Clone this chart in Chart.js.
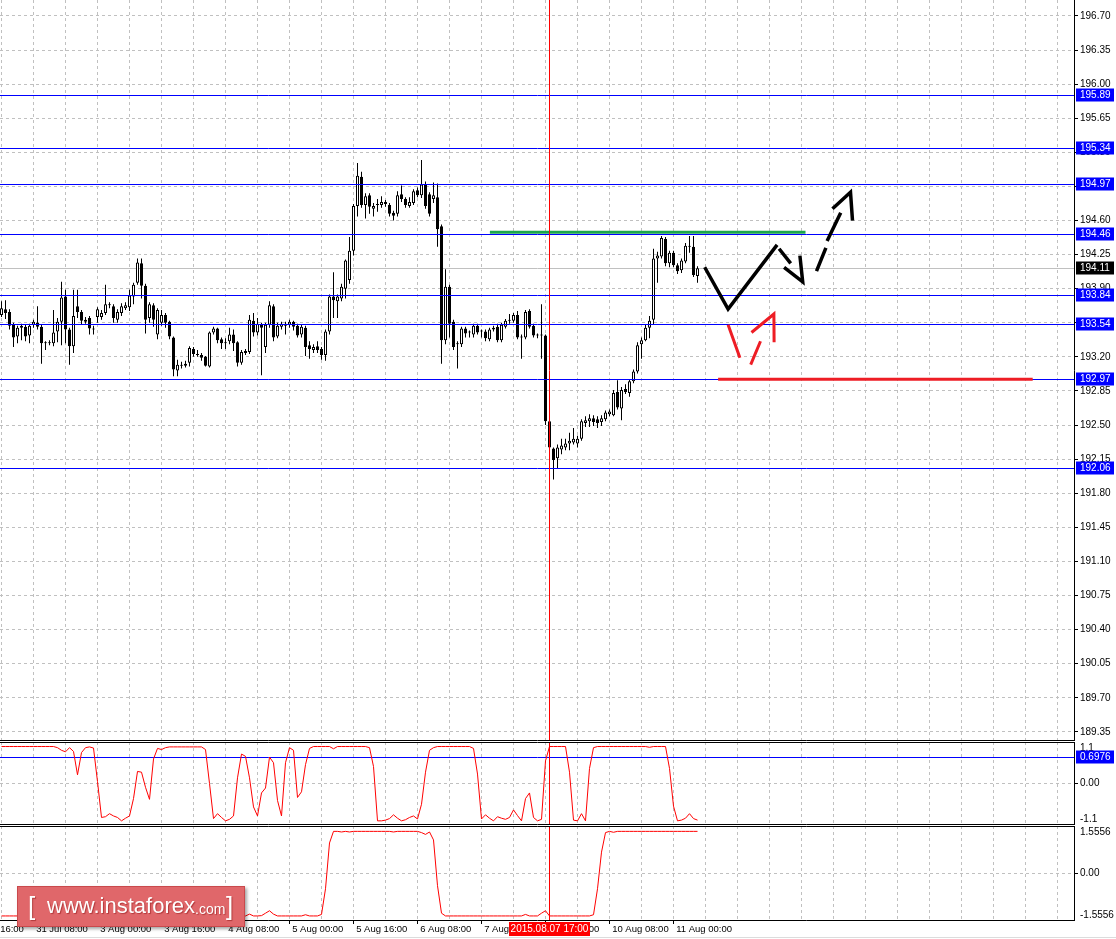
<!DOCTYPE html>
<html>
<head>
<meta charset="utf-8">
<script src="https://cdn.jsdelivr.net/npm/chart.js@4.4.1/dist/chart.umd.min.js"></script>
<style>
  html, body { margin: 0; padding: 0; background: #fff; }
  #wrap { position: relative; width: 1116px; height: 939px; overflow: hidden; background: #fff; }
  canvas { position: absolute; left: 0; }
  #main { top: 0; }
  #ind1 { top: 742px; }
  #ind2 { top: 826px; }
  #strip { position: absolute; left: 0; top: 937px; width: 1116px; height: 1px; background: #dcdcdc; }
  #logo {
    position: absolute; left: 17px; top: 886px; width: 226px; height: 39px;
    background: #e0676a; border: 1px solid #c9494c;
    box-shadow: 2px 2px 3px rgba(0, 0, 0, 0.35);
    color: #fff; font-family: "Liberation Sans", Arial, sans-serif; white-space: nowrap;
  }
  #logo span { position: absolute; line-height: 1; text-shadow: 1px 1px 1px rgba(120, 0, 0, 0.45); }
  #logo .br { font-size: 26px; top: 6px; }
  #logo .www { font-size: 22px; left: 29px; top: 8px; }
  #logo .com { font-size: 14px; left: 177px; top: 15px; }
</style>
</head>
<body>
<div id="wrap">
  <canvas id="main" width="1116" height="741"></canvas>
  <canvas id="ind1" width="1116" height="83"></canvas>
  <canvas id="ind2" width="1116" height="111"></canvas>
  <div id="strip"></div>
  <div id="logo"><span class="br" style="left:10px">[</span><span class="www">www.instaforex</span><span class="com">.com</span><span class="br" style="left:208px">]</span></div>
</div>
<script>
// H1 bars, index 0 = 31 Jul 00:00, index 174 = 11 Aug 06:00
const opens = [
  193.63,193.69,193.66,193.53,193.41,193.50,193.51,193.42,193.53,193.55,
  193.51,193.34,193.34,193.34,193.46,193.56,193.82,193.48,193.31,193.72,
  193.66,193.56,193.60,193.49,193.61,193.61,193.65,193.74,193.72,193.58,
  193.65,193.70,193.71,193.82,193.96,194.16,193.93,193.60,193.73,193.43,
  193.55,193.63,193.56,193.40,193.06,193.12,193.11,193.14,193.28,193.23,
  193.22,193.20,193.10,193.45,193.49,193.38,193.34,193.36,193.43,193.35,
  193.14,193.24,193.25,193.57,193.45,193.53,193.30,193.53,193.72,193.41,
  193.51,193.54,193.53,193.56,193.52,193.43,193.50,193.32,193.27,193.31,
  193.28,193.22,193.46,193.82,193.77,193.80,193.90,193.99,194.29,194.75,
  195.05,194.76,194.86,194.72,194.76,194.76,194.79,194.76,194.68,194.67,
  194.87,194.82,194.75,194.78,194.91,194.86,194.97,194.87,194.82,194.84,
  194.54,193.37,193.92,193.56,193.33,193.33,193.49,193.45,193.43,193.52,
  193.46,193.46,193.38,193.48,193.51,193.37,193.51,193.57,193.57,193.63,
  193.40,193.40,193.67,193.52,193.42,193.43,193.42,192.54,192.26,192.16,
  192.25,192.27,192.31,192.32,192.31,192.36,192.52,192.54,192.57,192.56,
  192.53,192.56,192.61,192.60,192.84,192.67,192.87,192.83,192.95,193.05,
  193.33,193.37,193.50,193.58,194.21,194.23,194.41,194.16,194.27,194.14,
  194.09,194.18,194.34,194.33,194.03
];
const highs = [
  193.77,193.78,193.69,193.55,193.52,193.54,193.53,193.54,193.58,193.72,
  193.53,193.36,193.37,193.68,193.60,193.97,193.89,193.50,193.89,193.89,
  193.68,193.61,193.62,193.52,193.71,193.68,193.94,193.76,193.74,193.69,
  193.75,193.76,193.89,193.96,194.21,194.21,193.95,193.76,193.75,193.70,
  193.68,193.65,193.57,193.41,193.17,193.15,193.16,193.31,193.30,193.27,
  193.24,193.21,193.46,193.51,193.50,193.40,193.39,193.50,193.48,193.36,
  193.27,193.28,193.63,193.65,193.60,193.55,193.55,193.77,193.74,193.55,
  193.56,193.56,193.58,193.57,193.54,193.53,193.52,193.36,193.33,193.36,
  193.30,193.48,193.84,194.07,193.84,193.95,194.20,194.43,194.77,195.19,
  195.10,194.88,194.88,194.78,194.82,194.85,194.81,194.78,194.70,194.90,
  194.96,194.84,194.84,194.92,194.94,195.22,195.00,194.89,194.99,194.98,
  194.56,194.10,193.94,193.58,193.36,193.51,193.51,193.47,193.54,193.54,
  193.48,193.48,193.50,193.52,193.54,193.55,193.59,193.64,193.65,193.67,
  193.43,193.68,193.69,193.54,193.44,193.74,193.43,192.56,192.27,192.30,
  192.36,192.36,192.42,192.47,192.39,192.56,192.59,192.61,192.60,192.59,
  192.60,192.65,192.66,192.86,192.96,192.89,192.92,192.97,193.07,193.35,
  193.40,193.53,193.62,194.31,194.28,194.44,194.43,194.29,194.29,194.16,
  194.21,194.37,194.44,194.44,194.13
];
const lows = [
  193.61,193.59,193.48,193.30,193.34,193.37,193.36,193.34,193.50,193.48,
  193.13,193.27,193.32,193.31,193.35,193.32,193.34,193.12,193.24,193.60,
  193.53,193.54,193.43,193.43,193.55,193.58,193.63,193.70,193.55,193.55,
  193.62,193.68,193.67,193.74,193.94,193.80,193.44,193.55,193.51,193.38,
  193.52,193.50,193.38,193.00,193.00,193.08,193.09,193.10,193.20,193.20,
  193.16,193.10,193.09,193.43,193.34,193.28,193.28,193.33,193.26,193.10,
  193.12,193.22,193.23,193.41,193.42,193.01,193.24,193.50,193.36,193.39,
  193.48,193.43,193.50,193.47,193.40,193.40,193.21,193.18,193.24,193.24,
  193.17,193.16,193.43,193.60,193.60,193.77,193.80,193.95,194.24,194.64,
  194.73,194.62,194.67,194.64,194.69,194.73,194.74,194.64,194.60,194.64,
  194.79,194.73,194.73,194.76,194.84,194.83,194.72,194.64,194.78,194.33,
  193.13,193.33,193.40,193.27,193.08,193.30,193.40,193.40,193.40,193.43,
  193.40,193.36,193.36,193.46,193.35,193.35,193.49,193.54,193.55,193.38,
  193.18,193.38,193.49,193.40,193.39,193.18,192.50,192.20,191.94,192.06,
  192.20,192.24,192.24,192.30,192.27,192.34,192.48,192.48,192.49,192.47,
  192.49,192.54,192.59,192.59,192.66,192.55,192.82,192.79,192.93,193.03,
  193.18,193.36,193.39,193.53,193.96,194.21,194.13,194.12,194.12,194.05,
  194.06,194.16,194.27,194.02,193.96
];
const closes = [
  193.70,193.65,193.52,193.40,193.50,193.52,193.41,193.52,193.56,193.51,
  193.34,193.34,193.35,193.45,193.56,193.81,193.48,193.31,193.62,193.66,
  193.57,193.58,193.49,193.48,193.69,193.65,193.74,193.73,193.60,193.66,
  193.72,193.73,193.83,193.94,194.17,193.93,193.58,193.74,193.58,193.68,
  193.63,193.55,193.41,193.07,193.12,193.11,193.13,193.29,193.23,193.22,
  193.19,193.11,193.45,193.49,193.37,193.34,193.35,193.43,193.34,193.14,
  193.25,193.26,193.58,193.45,193.54,193.50,193.53,193.73,193.40,193.52,
  193.54,193.52,193.56,193.51,193.42,193.51,193.30,193.28,193.30,193.27,
  193.22,193.46,193.82,193.78,193.82,193.92,194.19,194.29,194.75,195.06,
  194.76,194.85,194.74,194.75,194.76,194.79,194.77,194.67,194.65,194.86,
  194.82,194.76,194.79,194.90,194.86,194.97,194.75,194.67,194.86,194.51,
  193.37,193.92,193.54,193.30,193.33,193.49,193.44,193.45,193.52,193.45,
  193.46,193.39,193.48,193.50,193.37,193.53,193.57,193.57,193.63,193.40,
  193.40,193.66,193.51,193.42,193.42,193.42,192.54,192.27,192.14,192.27,
  192.29,192.31,192.34,192.36,192.36,192.54,192.55,192.57,192.53,192.52,
  192.57,192.63,192.64,192.83,192.68,192.86,192.84,192.95,193.05,193.32,
  193.37,193.50,193.57,194.21,194.24,194.42,194.16,194.27,194.14,194.08,
  194.19,194.34,194.33,194.04,194.11
];

// oscillator panel 1 (range -1.1 .. 1.1)
const osc1 = [
  0.98,0.98,0.98,0.98,0.98,0.98,0.98,0.98,0.98,0.98,
  0.98,0.98,0.98,0.98,0.95,0.88,0.84,0.95,0.85,0.23,
  0.82,0.95,0.97,0.94,0.05,-0.90,-0.88,-0.80,-0.86,-0.90,
  -0.99,-0.92,-0.86,-0.40,0.32,0.30,-0.10,-0.42,0.65,0.93,
  0.90,0.95,0.97,0.97,0.97,0.97,0.97,0.97,0.97,0.97,
  0.97,0.90,0.00,-0.93,-0.80,-0.90,-0.99,-0.95,-0.86,0.15,
  0.78,0.72,0.15,-0.62,-0.86,-0.25,-0.12,0.70,0.55,-0.45,
  -0.86,0.55,0.95,0.88,-0.37,-0.22,0.50,0.93,0.98,0.98,
  0.98,0.98,0.98,0.92,0.98,0.98,0.98,0.98,0.98,0.98,
  0.98,0.98,0.95,0.45,-0.99,-0.99,-0.97,-0.93,-0.83,-0.92,
  -0.99,-0.96,-0.90,-0.86,-0.94,-0.55,0.30,0.88,0.95,0.98,
  0.98,0.98,0.98,0.98,0.98,0.98,0.98,0.98,0.93,0.25,
  -0.94,-0.83,-0.92,-0.99,-0.88,-0.92,-0.95,-0.90,-0.70,-0.85,
  -0.99,-0.40,-0.25,-0.90,-0.99,-0.95,0.60,0.98,0.98,0.98,
  0.98,0.98,0.30,-0.97,-0.99,-0.80,-0.99,0.40,0.95,0.98,
  0.98,0.98,0.98,0.98,0.98,0.98,0.98,0.98,0.98,0.98,
  0.98,0.98,0.96,0.98,0.98,0.98,0.98,0.40,-0.60,-0.99,
  -0.97,-0.92,-0.80,-0.93,-0.97
];
// oscillator panel 2 (range -1.5556 .. 1.5556)
const osc2 = [
  -1.39,-1.39,-1.39,-1.39,-1.39,-1.39,-1.39,-1.39,-1.39,-1.39,
  -1.39,-1.39,-1.39,-1.39,-1.39,-1.39,-1.39,-1.39,-1.39,-1.39,
  -1.39,-1.39,-1.39,-1.39,-1.39,-1.39,-1.39,-1.39,-1.39,-1.39,
  -1.39,-1.39,-1.39,-1.39,-1.39,-1.39,-1.39,-1.39,-1.39,-1.39,
  -1.39,-1.39,-1.39,-1.39,-1.39,-1.39,-1.39,-1.39,-1.39,-1.39,
  -1.39,-1.39,-1.39,-1.39,-1.39,-1.39,-1.39,-1.39,-1.39,-1.39,
  -1.39,-1.39,-1.33,-1.39,-1.39,-1.38,-1.30,-1.22,-1.33,-1.39,
  -1.39,-1.39,-1.39,-1.39,-1.39,-1.39,-1.35,-1.39,-1.39,-1.39,
  -1.34,-0.50,1.00,1.38,1.38,1.36,1.38,1.36,1.38,1.38,
  1.38,1.38,1.38,1.38,1.38,1.38,1.38,1.38,1.36,1.38,
  1.38,1.38,1.38,1.38,1.38,1.34,1.28,1.36,1.10,-0.40,
  -1.30,-1.39,-1.39,-1.39,-1.39,-1.39,-1.39,-1.39,-1.39,-1.39,
  -1.39,-1.39,-1.39,-1.39,-1.39,-1.39,-1.39,-1.39,-1.39,-1.39,
  -1.39,-1.34,-1.39,-1.39,-1.39,-1.30,-1.22,-1.39,-1.39,-1.39,
  -1.39,-1.39,-1.39,-1.39,-1.39,-1.39,-1.39,-1.39,-1.35,-0.50,
  0.70,1.34,1.38,1.35,1.38,1.38,1.38,1.38,1.38,1.38,
  1.38,1.38,1.38,1.38,1.38,1.38,1.38,1.38,1.38,1.38,
  1.38,1.38,1.38,1.38,1.38
];

const priceTicks = [196.70,196.35,196.00,195.65,195.30,194.95,194.60,194.25,193.90,193.55,193.20,
  192.85,192.50,192.15,191.80,191.45,191.10,190.75,190.40,190.05,189.70,189.35];
const levelPrices = [195.89, 195.34, 194.97, 194.46, 193.84, 193.54, 192.97, 192.06];
const bidPrice = 194.11;
const osc1Level = 0.6976;
const osc1Ticks = [1.1, 0, -1.1];
const osc1TickLabels = ['1.1', '0.00', '-1.1'];
const osc2Ticks = [1.5556, 0, -1.5556];
const osc2TickLabels = ['1.5556', '0.00', '-1.5556'];
const timeTickBars = [-8, 8, 24, 40, 56, 72, 88, 104, 120, 136, 152, 168];
const timeTickLabels = ['30 Jul 16:00', '31 Jul 08:00', '3 Aug 00:00', '3 Aug 16:00', '4 Aug 08:00',
  '5 Aug 00:00', '5 Aug 16:00', '6 Aug 08:00', '7 Aug 00:00', '7 Aug 16:00', '10 Aug 08:00', '11 Aug 00:00'];
const crossBar = 137;
const crossLabel = '2015.08.07 17:00';

// hand drawn marks, [bar, price]
const greenLine = [[122.1, 194.48], [201, 194.48]];
const redLine = [[179.15, 192.97], [257.8, 192.97]];
const blackStrokes = [
  [[175.8, 194.12], [181.65, 193.69], [193.9, 194.35]],
  [[194.4, 194.31], [197.3, 194.16]],
  [[195.65, 194.12], [200.3, 193.97], [199.6, 194.24]],
  [[203.75, 194.08], [206.1, 194.32]],
  [[206.4, 194.39], [209.8, 194.68]],
  [[207.75, 194.72], [212.25, 194.89], [212.75, 194.60]]
];
const redStrokes = [
  [[181.65, 193.53], [184.6, 193.19]],
  [[187.3, 193.12], [189.75, 193.36]],
  [[187.5, 193.45], [193.1, 193.64], [193.15, 193.35]]
];

const X_MIN = -0.375, X_MAX = 268.375;
const Y_MIN = 189.256, Y_MAX = 196.864;

const FAMILY = "'Liberation Sans', Arial, sans-serif";
const FONT = { family: FAMILY, size: 10 };
const XFONT = { family: FAMILY, size: 9.5 };
const CSSFONT = '10px ' + FAMILY;
const GRID = '#c0c0c0';
const BLUE = '#0000ff';

Chart.defaults.font = FONT;
Chart.defaults.color = '#000';

const barIdx = closes.map((c, k) => k);
const gridBars = [];
for (let k = 0; k <= 264; k += 8) gridBars.push(k);

function strokesToData(strokes) {
  const out = [];
  strokes.forEach(s => {
    s.forEach(p => out.push({ x: p[0], y: p[1] }));
    out.push({ x: s[s.length - 1][0], y: null });
  });
  return out;
}

function labelFor(v) {
  const i = timeTickBars.indexOf(v);
  return i >= 0 ? ' ' + timeTickLabels[i] : '';
}

function xScale(showLabels) {
  const ticksList = showLabels ? timeTickBars.filter(v => v < 0).concat(gridBars) : gridBars;
  return {
    type: 'linear', min: X_MIN, max: X_MAX, offset: false,
    afterBuildTicks: s => { s.ticks = ticksList.map(v => ({ value: v })); },
    afterFit: s => { s.paddingLeft = 0; s.paddingRight = 0; s.height = showLabels ? 16 : 0; },
    grid: {
      offset: false, color: GRID, lineWidth: 1, drawTicks: showLabels, tickLength: 3, tickWidth: 1, tickBorderDash: [],
      tickColor: c => (c.tick && labelFor(c.tick.value)) ? '#000' : 'rgba(0,0,0,0)'
    },
    border: { display: false, dash: [3, 3] },
    ticks: {
      display: showLabels, autoSkip: false, maxRotation: 0, minRotation: 0, align: 'start',
      padding: 0, color: '#000', font: XFONT, callback: v => labelFor(v)
    }
  };
}

function drawBox(ctx, x, y, w, text, bg) {
  ctx.fillStyle = bg;
  ctx.fillRect(x, y - 6.5, w, 13);
  ctx.fillStyle = '#fff';
  ctx.font = CSSFONT;
  ctx.textBaseline = 'middle';
  ctx.textAlign = 'left';
  ctx.fillText(text, x + 4, y + 0.5);
}

function hline(ctx, a, py, color) {
  ctx.strokeStyle = color;
  ctx.lineWidth = 1;
  ctx.beginPath();
  ctx.moveTo(a.left, py);
  ctx.lineTo(a.right, py);
  ctx.stroke();
}

function drawCross(chart) {
  const { ctx, chartArea: a, scales: { x } } = chart;
  const px = Math.floor(x.getPixelForValue(crossBar)) + 0.5;
  ctx.save();
  ctx.strokeStyle = '#ff0000';
  ctx.lineWidth = 1;
  ctx.beginPath();
  ctx.moveTo(px, 0);
  ctx.lineTo(px, a.bottom);
  ctx.stroke();
  ctx.restore();
}

function drawFrame(chart, withTop) {
  const { ctx, chartArea: a } = chart;
  ctx.save();
  ctx.strokeStyle = '#000';
  ctx.lineWidth = 1;
  ctx.beginPath();
  if (withTop) { ctx.moveTo(a.left, a.top + 0.5); ctx.lineTo(a.right, a.top + 0.5); }
  ctx.moveTo(a.right - 0.5, a.top);
  ctx.lineTo(a.right - 0.5, a.bottom);
  ctx.moveTo(a.left, a.bottom - 0.5);
  ctx.lineTo(a.right, a.bottom - 0.5);
  ctx.stroke();
  ctx.restore();
}

const mainOverlay = {
  id: 'mainOverlay',
  beforeDatasetsDraw(chart) {
    const { ctx, chartArea: a, scales: { y } } = chart;
    ctx.save();
    hline(ctx, a, Math.round(y.getPixelForValue(bidPrice)) + 0.5, GRID);
    ctx.restore();
  },
  afterDatasetDraw(chart, args) {
    if (args.index !== 1) return;
    const { ctx, chartArea: a, scales: { y } } = chart;
    ctx.save();
    levelPrices.forEach(p => hline(ctx, a, Math.round(y.getPixelForValue(p)) + 0.5, BLUE));
    ctx.restore();
  },
  afterDatasetsDraw(chart) { drawCross(chart); },
  afterDraw(chart) {
    const { ctx, chartArea: a, scales: { y } } = chart;
    drawFrame(chart, false);
    ctx.save();
    levelPrices.forEach(p => drawBox(ctx, a.right + 1, Math.round(y.getPixelForValue(p)), 38, p.toFixed(2), BLUE));
    drawBox(ctx, a.right + 1, Math.round(y.getPixelForValue(bidPrice)), 38, bidPrice.toFixed(2), '#000');
    ctx.restore();
  }
};

function oscOverlay(ticks, labels, level) {
  return {
    id: 'oscOverlay',
    beforeDatasetsDraw(chart) {
      if (level === null) return;
      const { ctx, chartArea: a, scales: { y } } = chart;
      ctx.save();
      hline(ctx, a, Math.round(y.getPixelForValue(level)) + 0.5, BLUE);
      ctx.restore();
    },
    afterDatasetsDraw(chart) { drawCross(chart); },
    afterDraw(chart) {
      const { ctx, chartArea: a, scales: { y } } = chart;
      drawFrame(chart, true);
      ctx.save();
      ctx.fillStyle = '#000';
      ctx.font = CSSFONT;
      ctx.textAlign = 'left';
      ticks.forEach((v, i) => {
        let py = y.getPixelForValue(v);
        if (i === 0) { ctx.textBaseline = 'top'; py = a.top + 1; }
        else if (i === ticks.length - 1) { ctx.textBaseline = 'bottom'; py = a.bottom - 1; }
        else { ctx.textBaseline = 'middle'; }
        ctx.fillText(labels[i], a.right + 5, py);
      });
      if (level !== null) {
        drawBox(ctx, a.right + 1, Math.round(y.getPixelForValue(level)), 38, level.toFixed(4), BLUE);
      }
      if (chart.canvas.id === 'ind2') {
        const px = Math.floor(chart.scales.x.getPixelForValue(crossBar)) + 0.5;
        ctx.fillStyle = '#ff0000';
        ctx.fillRect(px - 40.5, a.bottom + 1, 81, 14);
        ctx.fillStyle = '#fff';
        ctx.textAlign = 'center';
        ctx.textBaseline = 'middle';
        ctx.fillText(crossLabel, px, a.bottom + 8.5);
      }
      ctx.restore();
    }
  };
}

function oscYScale(ticks) {
  const lo = ticks[ticks.length - 1], hi = ticks[0];
  return {
    position: 'right', min: lo, max: hi,
    afterBuildTicks: s => { s.ticks = ticks.map(v => ({ value: v })); },
    afterFit: s => { s.width = 41; s.paddingTop = 0; s.paddingBottom = 0; },
    grid: {
      color: c => (c.tick && c.tick.value === 0) ? GRID : 'rgba(0,0,0,0)',
      tickColor: c => (c.tick && c.tick.value === 0) ? '#000' : 'rgba(0,0,0,0)',
      tickLength: 3, tickBorderDash: []
    },
    border: { display: false, dash: [3, 3] },
    ticks: { display: false }
  };
}

const common = {
  responsive: false, animation: false, devicePixelRatio: 1, events: [],
  layout: { padding: 0 },
  plugins: { legend: { display: false }, tooltip: { enabled: false } }
};

const annotationSets = [
  { type: 'line', order: 0, data: greenLine.map(p => ({ x: p[0], y: p[1] })), borderColor: '#1ca64c', borderWidth: 3 },
  { type: 'line', order: 0, data: redLine.map(p => ({ x: p[0], y: p[1] })), borderColor: '#ee1d25', borderWidth: 3 },
  { type: 'line', order: 0, data: strokesToData(blackStrokes), borderColor: '#000', borderWidth: 3.5 },
  { type: 'line', order: 0, data: strokesToData(redStrokes), borderColor: '#ee1d25', borderWidth: 3 }
].map(d => Object.assign(d, { pointRadius: 0, tension: 0, spanGaps: false, borderCapStyle: 'butt', borderJoinStyle: 'miter' }));

new Chart(document.getElementById('main'), {
  type: 'bar',
  data: {
    datasets: [
      {
        order: 3, grouped: false, categoryPercentage: 1, barPercentage: 0.25, maxBarThickness: 1,
        data: barIdx.map(k => ({ x: k, y: [lows[k], highs[k]] })),
        backgroundColor: '#000', borderWidth: 0
      },
      {
        order: 2, grouped: false, categoryPercentage: 1, barPercentage: 0.75, minBarLength: 1,
        data: barIdx.map(k => ({ x: k, y: [opens[k], closes[k]] })),
        backgroundColor: c => closes[c.dataIndex] > opens[c.dataIndex] ? '#fff' : '#000',
        borderColor: '#000', borderWidth: 1, borderSkipped: false
      }
    ].concat(annotationSets)
  },
  options: Object.assign({}, common, {
    scales: {
      x: xScale(false),
      y: {
        position: 'right', min: Y_MIN, max: Y_MAX,
        afterBuildTicks: s => { s.ticks = priceTicks.map(v => ({ value: v })); },
        afterFit: s => { s.width = 41; s.paddingTop = 0; s.paddingBottom = 0; },
        grid: { color: GRID, tickColor: '#000', tickLength: 3, tickBorderDash: [] },
        border: { display: false, dash: [3, 3] },
        ticks: { autoSkip: false, padding: 2, color: '#000', font: FONT, callback: v => v.toFixed(2) }
      }
    }
  }),
  plugins: [mainOverlay]
});

new Chart(document.getElementById('ind1'), {
  type: 'line',
  data: {
    datasets: [{
      data: barIdx.map(k => ({ x: k, y: osc1[k] })),
      borderColor: '#ff0000', borderWidth: 1, pointRadius: 0, tension: 0
    }]
  },
  options: Object.assign({}, common, {
    scales: { x: xScale(false), y: oscYScale(osc1Ticks) }
  }),
  plugins: [oscOverlay(osc1Ticks, osc1TickLabels, osc1Level)]
});

new Chart(document.getElementById('ind2'), {
  type: 'line',
  data: {
    datasets: [{
      data: barIdx.map(k => ({ x: k, y: osc2[k] })),
      borderColor: '#ff0000', borderWidth: 1, pointRadius: 0, tension: 0
    }]
  },
  options: Object.assign({}, common, {
    scales: { x: xScale(true), y: oscYScale(osc2Ticks) }
  }),
  plugins: [oscOverlay(osc2Ticks, osc2TickLabels, null)]
});
</script>
</body>
</html>
